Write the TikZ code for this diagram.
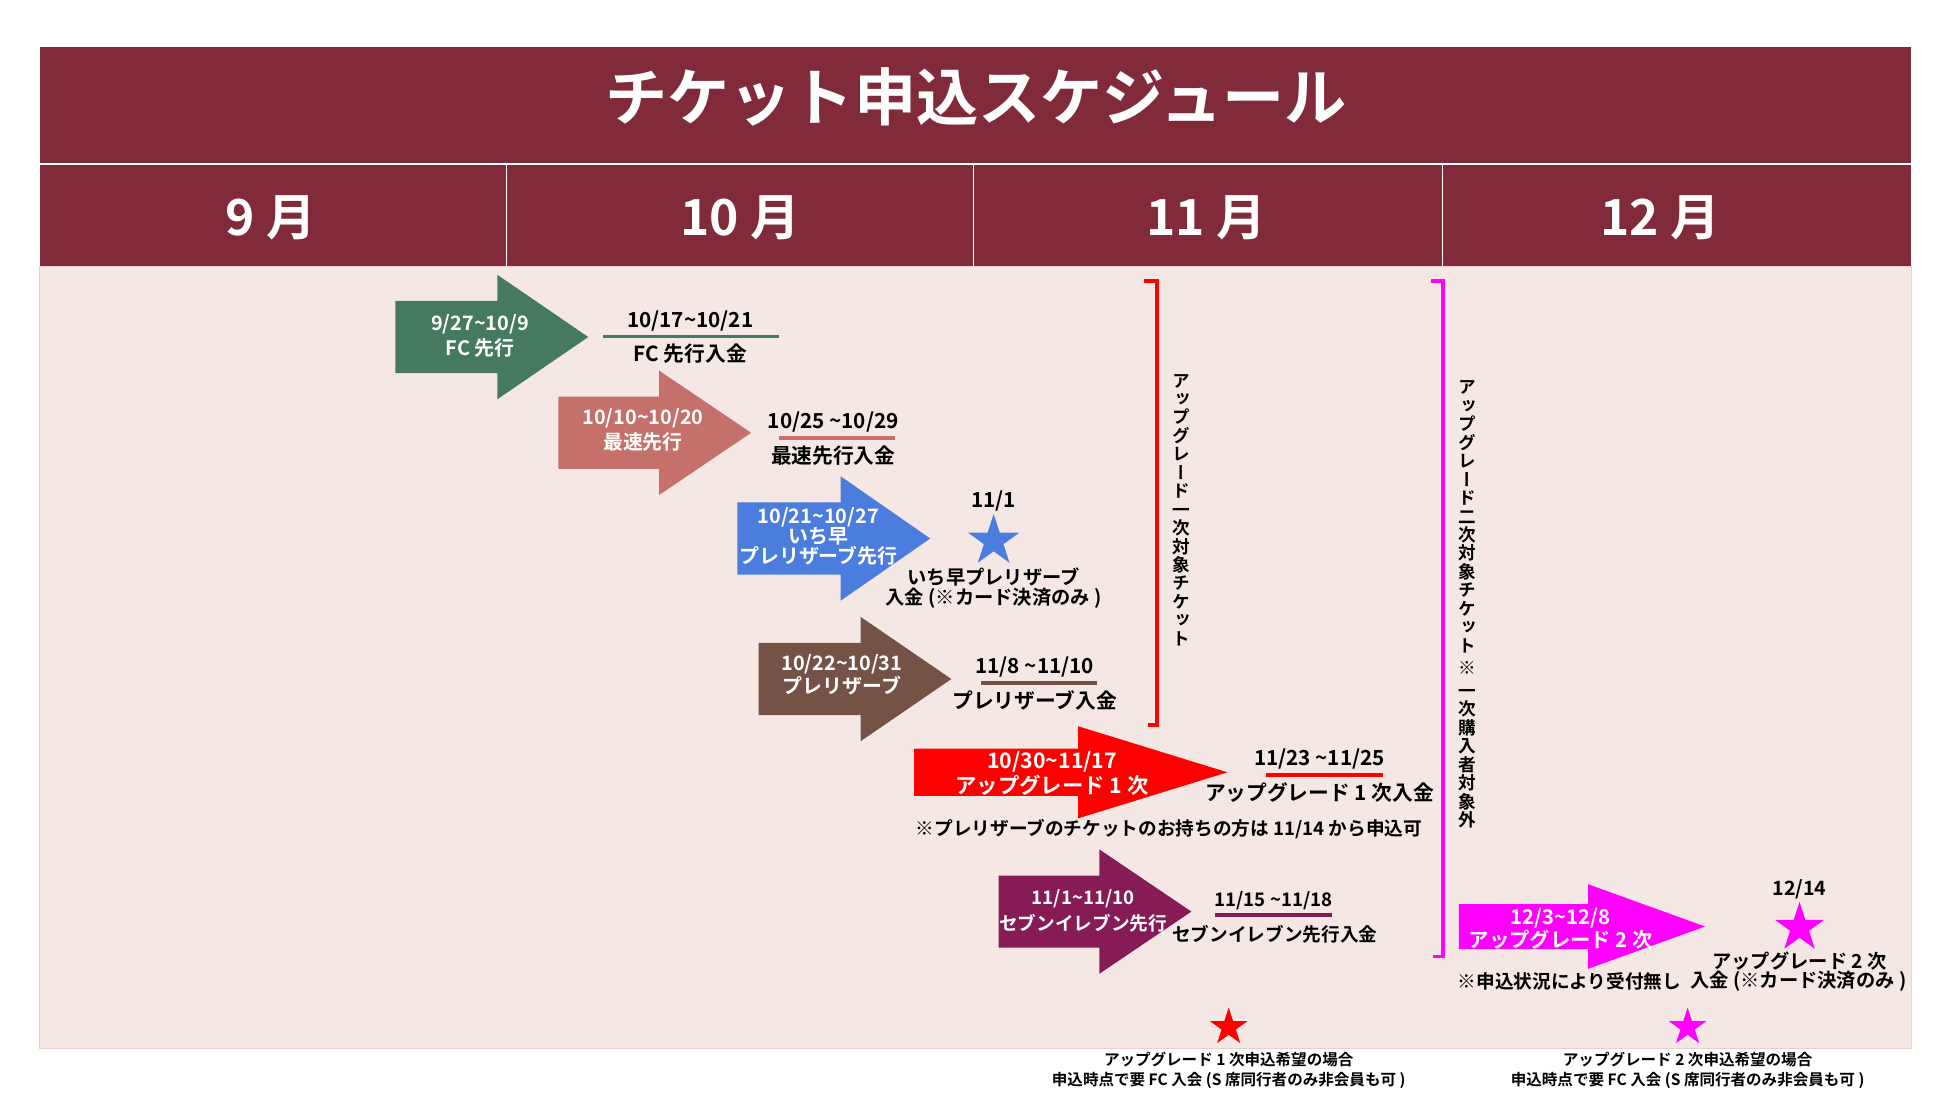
\documentclass[tikz,border=0pt]{standalone}
\usepackage{fontspec}
\setmainfont{Noto Sans CJK JP}[BoldFont={* Bold}]
\newfontfamily\tatefont{Noto Sans CJK JP}[BoldFont={* Bold},RawFeature=+vert]
\usetikzlibrary{shapes.geometric}
\definecolor{headred}{HTML}{802A3A}
\definecolor{bodybg}{HTML}{F5E8E4}
\definecolor{bodyline}{HTML}{E6D2D0}
\definecolor{fcgreen}{HTML}{457A5E}
\definecolor{fastpink}{HTML}{C5706A}
\definecolor{earlyblue}{HTML}{4A7DDD}
\definecolor{prebrown}{HTML}{745245}
\definecolor{upred}{HTML}{FF0000}
\definecolor{sevenpurple}{HTML}{871B55}
\definecolor{upmagenta}{HTML}{FF00FF}
\newcommand{\wave}{\textasciitilde}
\tikzset{
	titletext/.style={text=white, inner sep=0, font=\bfseries\fontsize{30}{34}\selectfont},
	monthtext/.style={text=white, inner sep=0, font=\bfseries\fontsize{24}{28}\selectfont},
	arrowtext/.style={text=white, inner sep=0, align=center, font=\bfseries\fontsize{9.6}{#1}\selectfont},
	arrowtext/.default=12,
	paytext/.style={inner sep=0, align=center, font=\bfseries\fontsize{#1}{11}\selectfont},
	paytext/.default=10,
	notetext/.style={inner sep=0, align=center, font=\bfseries\fontsize{7.5}{9.6}\selectfont},
	tatetext/.style={inner sep=0, align=center, font=\tatefont\bfseries\fontsize{8.5}{8.9}\selectfont},
	payline/.style={line width=1.8pt},
	bracket/.style={line width=1.8pt},
	paystar/.style={star, star points=5, star point ratio=2.618, inner sep=0, minimum size=#1},
	paystar/.default=26pt
}
\begin{document}
\begin{tikzpicture}[x=0.6pt, y=-0.6pt]
	\useasboundingbox (0,0) rectangle (1568,882);
	\fill[white] (0,0) rectangle (1568,882);
	\fill[headred] (32,38) rectangle (1537,131);
	\node[titletext] (title) at (785,78) {チケット申込スケジュール};
	\foreach \xa/\xb in {32/406.5, 407.5/782.5, 783.5/1159.5, 1160.5/1537}
		\fill[headred] (\xa,133) rectangle (\xb,214);
	\node[monthtext] (sep) at (218,175) {9 月};
	\node[monthtext] (oct) at (595,175) {10 月};
	\node[monthtext] (nov) at (970,175) {11 月};
	\node[monthtext] (dec) at (1335,175) {12 月};
	\filldraw[fill=bodybg, draw=bodyline, line width=0.6pt] (32,214) rectangle (1537,843);

	\fill[fcgreen] (318,242) -- (400,242) -- (400,221) -- (473,271) -- (400,321) -- (400,300) -- (318,300) -- cycle;
	\node[arrowtext] (fcarrow) at (386,270) {9/27\wave10/9\\FC 先行};
	\node[paytext] (fcdate) at (555,258) {10/17\wave10/21};
	\draw[payline, fcgreen] (485,270.5) -- (626,270.5);
	\node[paytext] (fcpay) at (555,284.5) {FC 先行入金};

	\fill[fastpink] (449,319) -- (530,319) -- (530,298) -- (604,348) -- (530,398) -- (530,377) -- (449,377) -- cycle;
	\node[arrowtext] (fastarrow) at (517,346) {10/10\wave10/20\\最速先行};
	\node[paytext] (fastdate) at (670,339) {10/25 \wave10/29};
	\draw[payline, fastpink] (626,352) -- (720,352);
	\node[paytext] (fastpay) at (670,366) {最速先行入金};

	\fill[earlyblue] (593,404) -- (676,404) -- (676,383) -- (748,433) -- (676,483) -- (676,462) -- (593,462) -- cycle;
	\node[arrowtext=9.6] (earlyarrow) at (658,431.5) {10/21\wave10/27\\いち早\\プレリザーブ先行};
	\node[paytext] (earlydate) at (799,402.5) {11/1};
	\node[paystar, fill=earlyblue] (earlystar) at (799,435) {};
	\node[paytext=9.3, font=\bfseries\fontsize{9.3}{9.6}\selectfont] (earlypay) at (799,473) {いち早プレリザーブ\\入金 (※カード決済のみ )};

	\fill[prebrown] (610,517) -- (692,517) -- (692,496) -- (765,546) -- (692,596) -- (692,575) -- (610,575) -- cycle;
	\node[arrowtext=11.4] (prearrow) at (677,542.5) {10/22\wave10/31\\プレリザーブ};
	\node[paytext] (predate) at (832,536) {11/8 \wave11/10};
	\draw[payline, prebrown] (789,549) -- (882,549);
	\node[paytext] (prepay) at (832,563) {プレリザーブ入金};

	\draw[bracket, upred] (920,226) -- (930.5,226) -- (930.5,583) -- (923,583);
	\node[tatetext] (upone) at (950,410) {ア\\ッ\\プ\\グ\\レ\\ー\\ド\\一\\次\\対\\象\\チ\\ケ\\ッ\\ト};

	\fill[upred] (735,602) -- (867,602) -- (867,584) -- (987,621) -- (867,658) -- (867,640) -- (735,640) -- cycle;
	\node[arrowtext=10.5, font=\bfseries\fontsize{10.3}{10.5}\selectfont] (uparrow) at (846,622) {10/30\wave11/17\\アップグレード 1 次};
	\node[paytext] (update) at (1061,610) {11/23 \wave11/25};
	\draw[payline, upred] (1018,623) -- (1112,623);
	\node[paytext] (uppay) at (1061,637) {アップグレード 1 次入金};
	\node[paytext=9] (upnote) at (940,667) {※プレリザーブのチケットのお持ちの方は 11/14 から申込可};

	\fill[sevenpurple] (803,704) -- (884,704) -- (884,683) -- (958,733) -- (884,783) -- (884,762) -- (803,762) -- cycle;
	\node[arrowtext=12.6, font=\bfseries\fontsize{9}{12.6}\selectfont] (sevenarrow) at (871,732.5) {11/1\wave11/10\\セブンイレブン先行};
	\node[paytext=9] (sevendate) at (1024,724) {11/15 \wave11/18};
	\draw[payline, sevenpurple] (977,735.5) -- (1071,735.5);
	\node[paytext=9] (sevenpay) at (1025,751) {セブンイレブン先行入金};

	\draw[bracket, upmagenta] (1151,226) -- (1160.5,226) -- (1160.5,769) -- (1152,769);
	\node[tatetext] (uptwo) at (1180,486) {ア\\ッ\\プ\\グ\\レ\\ー\\ド\\二\\次\\対\\象\\チ\\ケ\\ッ\\ト\\[2pt]※\\[2pt]一\\次\\購\\入\\者\\対\\象\\外};

	\fill[upmagenta] (1173,727) -- (1277,727) -- (1277,711) -- (1371,745) -- (1277,779) -- (1277,763) -- (1173,763) -- cycle;
	\node[arrowtext=8.6, font=\bfseries\fontsize{9.8}{8.6}\selectfont] (secondarrow) at (1255,747) {12/3\wave12/8\\アップグレード 2 次};
	\node[paytext=9.5] (seconddate) at (1447,715) {12/14};
	\node[paystar=25pt, fill=upmagenta] (secondstar) at (1447,746) {};
	\node[paytext=9.3] (secondpay) at (1447,773) {アップグレード 2 次};
	\node[paytext=9.3] (secondcard) at (1446,789) {入金 (※カード決済のみ )};
	\node[paytext=9] (secondnote) at (1262,789) {※申込状況により受付無し};

	\node[paystar=19pt, fill=upred] (fcstarone) at (988,826) {};
	\node[notetext] (fcnoteone) at (988,861) {アップグレード 1 次申込希望の場合\\申込時点で要 FC 入会 (S 席同行者のみ非会員も可 )};
	\node[paystar=19pt, fill=upmagenta] (fcstartwo) at (1357,826) {};
	\node[notetext] (fcnotetwo) at (1357,861) {アップグレード 2 次申込希望の場合\\申込時点で要 FC 入会 (S 席同行者のみ非会員も可 )};
\end{tikzpicture}
\end{document}
